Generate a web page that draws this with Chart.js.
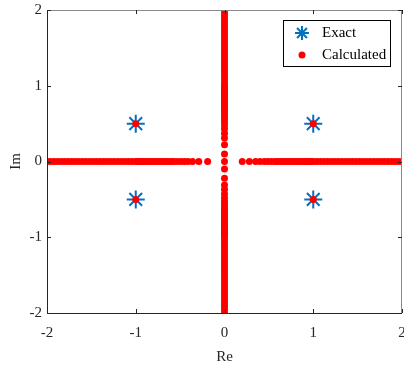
<!DOCTYPE html>
<html>
<head>
<meta charset="utf-8">
<script src="https://cdn.jsdelivr.net/npm/chart.js@4/dist/chart.umd.min.js"></script>
<style>
  html, body { margin: 0; padding: 0; background: #fff; }
  canvas { display: block; }
</style>
</head>
<body>
<canvas id="roots" width="404" height="368"></canvas>
<script>
// exact roots (Re, Im)
const exactRe = [-1, -1, 1, 1];
const exactIm = [0.5, -0.5, 0.5, -0.5];

// calculated complex roots (sit on top of the exact ones)
const calcComplexRe = [-1, -1, 1, 1];
const calcComplexIm = [0.5, -0.5, 0.5, -0.5];

const realPos = [0.20, 0.28, 0.35, 0.40, 0.45, 0.49, 0.53, 0.57, 0.60, 0.63, 0.66, 0.69,
  0.72, 0.75, 0.78, 0.80, 0.83, 0.85, 0.88, 0.90, 0.92, 0.94, 0.96, 0.98, 1.00, 1.04,
  1.08, 1.12, 1.16, 1.20, 1.24, 1.28, 1.32, 1.36, 1.40, 1.44, 1.48, 1.52, 1.56, 1.60,
  1.64, 1.68, 1.72, 1.76, 1.80, 1.84, 1.88, 1.92, 1.96, 2.00];
const realNeg = [-0.19, -0.29, -0.36, -0.41, -0.45, -0.49, -0.53, -0.57, -0.60, -0.63,
  -0.66, -0.69, -0.72, -0.75, -0.78, -0.80, -0.83, -0.85, -0.88, -0.90, -0.92, -0.94,
  -0.96, -0.98, -1.00, -1.04, -1.08, -1.12, -1.16, -1.20, -1.24, -1.28, -1.32, -1.36,
  -1.40, -1.44, -1.48, -1.52, -1.56, -1.60, -1.64, -1.68, -1.72, -1.76, -1.80, -1.84,
  -1.88, -1.92, -1.96, -2.00];

// calculated roots lying on the imaginary axis (Re = 0)
const imagPos = [0, 0.10, 0.22, 0.31, 0.37, 0.43, 0.48, 0.52, 0.56, 0.60, 0.63, 0.66,
  0.69, 0.72, 0.75, 0.78, 0.80, 0.83, 0.85, 0.88, 0.90, 0.92, 0.94, 0.96, 0.98, 1.00,
  1.04, 1.08, 1.12, 1.16, 1.20, 1.24, 1.28, 1.32, 1.36, 1.40, 1.44, 1.48, 1.52, 1.56,
  1.60, 1.64, 1.68, 1.72, 1.76, 1.80, 1.84, 1.88, 1.92, 1.96, 2.00];
const imagNeg = [-0.10, -0.22, -0.31, -0.37, -0.43, -0.48, -0.52, -0.56, -0.60, -0.63,
  -0.66, -0.69, -0.72, -0.75, -0.78, -0.80, -0.83, -0.85, -0.88, -0.90, -0.92, -0.94,
  -0.96, -0.98, -1.00, -1.04, -1.08, -1.12, -1.16, -1.20, -1.24, -1.28, -1.32, -1.36,
  -1.40, -1.44, -1.48, -1.52, -1.56, -1.60, -1.64, -1.68, -1.72, -1.76, -1.80, -1.84,
  -1.88, -1.92, -1.96, -2.00];

const tickValues = [-2, -1, 0, 1, 2];

const BLUE = "#0072BD";
const RED = "#FF0000";
const AXIS = "#262626";
const FONT = "'Liberation Serif', 'Times New Roman', serif";

const exactPoints = exactRe.map((re, i) => ({ x: re, y: exactIm[i] }));
const calcPoints = [
  ...realNeg.map((v) => ({ x: v, y: 0 })),
  ...realPos.map((v) => ({ x: v, y: 0 })),
  ...imagNeg.map((v) => ({ x: 0, y: v })),
  ...imagPos.map((v) => ({ x: 0, y: v })),
  ...calcComplexRe.map((re, i) => ({ x: re, y: calcComplexIm[i] })),
];

// MATLAB-like box with inward ticks, plus the legend in the top right corner
const boxPlugin = {
  id: "box",
  afterDraw(chart) {
    const { ctx, chartArea: a, scales } = chart;
    ctx.save();
    ctx.lineWidth = 1;

    ctx.strokeStyle = AXIS;
    ctx.beginPath();
    ctx.moveTo(a.left + 0.5, a.top);
    ctx.lineTo(a.left + 0.5, a.bottom + 0.5);
    ctx.lineTo(a.right, a.bottom + 0.5);
    ctx.stroke();

    ctx.strokeStyle = "#8a8a8a";
    ctx.beginPath();
    ctx.moveTo(a.left, a.top + 0.5);
    ctx.lineTo(a.right - 0.5, a.top + 0.5);
    ctx.lineTo(a.right - 0.5, a.bottom);
    ctx.stroke();

    ctx.strokeStyle = AXIS;
    const len = 4;
    tickValues.forEach((v) => {
      const px = Math.round(scales.x.getPixelForValue(v)) + 0.5;
      const py = Math.round(scales.y.getPixelForValue(v)) + 0.5;
      ctx.beginPath();
      ctx.moveTo(px, a.bottom);
      ctx.lineTo(px, a.bottom - len);
      ctx.moveTo(px, a.top);
      ctx.lineTo(px, a.top + len);
      ctx.moveTo(a.left, py);
      ctx.lineTo(a.left + len, py);
      ctx.moveTo(a.right, py);
      ctx.lineTo(a.right - len, py);
      ctx.stroke();
    });

    // legend
    const lx = 283, ly = 20, lw = 107, lh = 46;
    ctx.fillStyle = "#fff";
    ctx.fillRect(lx, ly, lw, lh);
    ctx.strokeStyle = "#000";
    ctx.strokeRect(lx + 0.5, ly + 0.5, lw, lh);

    const sx = 302, sy = 33, r = 7;
    ctx.strokeStyle = BLUE;
    ctx.lineWidth = 2;
    ctx.beginPath();
    ctx.moveTo(sx - r, sy); ctx.lineTo(sx + r, sy);
    ctx.moveTo(sx, sy - r); ctx.lineTo(sx, sy + r);
    const d = r * Math.SQRT1_2;
    ctx.moveTo(sx - d, sy - d); ctx.lineTo(sx + d, sy + d);
    ctx.moveTo(sx - d, sy + d); ctx.lineTo(sx + d, sy - d);
    ctx.stroke();

    ctx.fillStyle = RED;
    ctx.beginPath();
    ctx.arc(302, 55, 3.5, 0, Math.PI * 2);
    ctx.fill();

    ctx.fillStyle = "#000";
    ctx.font = "15px " + FONT;
    ctx.textBaseline = "middle";
    ctx.textAlign = "left";
    ctx.fillText(chart.data.datasets[1].label, 322, 33);
    ctx.fillText(chart.data.datasets[0].label, 322, 55);
    ctx.restore();
  },
};

const tickFont = { family: FONT, size: 15 };

new Chart(document.getElementById("roots"), {
  type: "scatter",
  data: {
    datasets: [
      {
        label: "Calculated",
        data: calcPoints,
        pointStyle: "circle",
        pointRadius: 3.5,
        pointBorderWidth: 0,
        pointBackgroundColor: RED,
        pointBorderColor: RED,
        order: 0,
      },
      {
        label: "Exact",
        data: exactPoints,
        pointStyle: "star",
        pointRadius: 9,
        pointBorderWidth: 2,
        pointBorderColor: BLUE,
        pointBackgroundColor: BLUE,
        order: 1,
      },
    ],
  },
  options: {
    responsive: false,
    animation: false,
    layout: { autoPadding: false, padding: { top: 10, right: 2, left: 0, bottom: 0 } },
    plugins: {
      legend: { display: false },
      tooltip: { enabled: false },
    },
    scales: {
      x: {
        type: "linear",
        min: -2,
        max: 2,
        afterBuildTicks: (s) => { s.ticks = tickValues.map((v) => ({ value: v })); },
        ticks: { font: tickFont, color: AXIS, padding: 11, maxRotation: 0 },
        grid: { display: false, drawTicks: false },
        border: { display: false },
        title: { display: true, text: "Re", font: tickFont, color: AXIS, padding: { bottom: 2 } },
        afterFit: (s) => {
          s.height = 55;
          s.paddingLeft = 0;
          s.paddingRight = 0;
        },
      },
      y: {
        type: "linear",
        min: -2,
        max: 2,
        afterBuildTicks: (s) => { s.ticks = tickValues.map((v) => ({ value: v })); },
        ticks: { font: tickFont, color: AXIS, padding: 5 },
        grid: { display: false, drawTicks: false },
        border: { display: false },
        title: { display: true, text: "Im", font: tickFont, color: AXIS, padding: { top: 7 } },
        afterFit: (s) => {
          s.width = 47;
          s.paddingTop = 0;
          s.paddingBottom = 0;
        },
      },
    },
  },
  plugins: [boxPlugin],
});
</script>
</body>
</html>
